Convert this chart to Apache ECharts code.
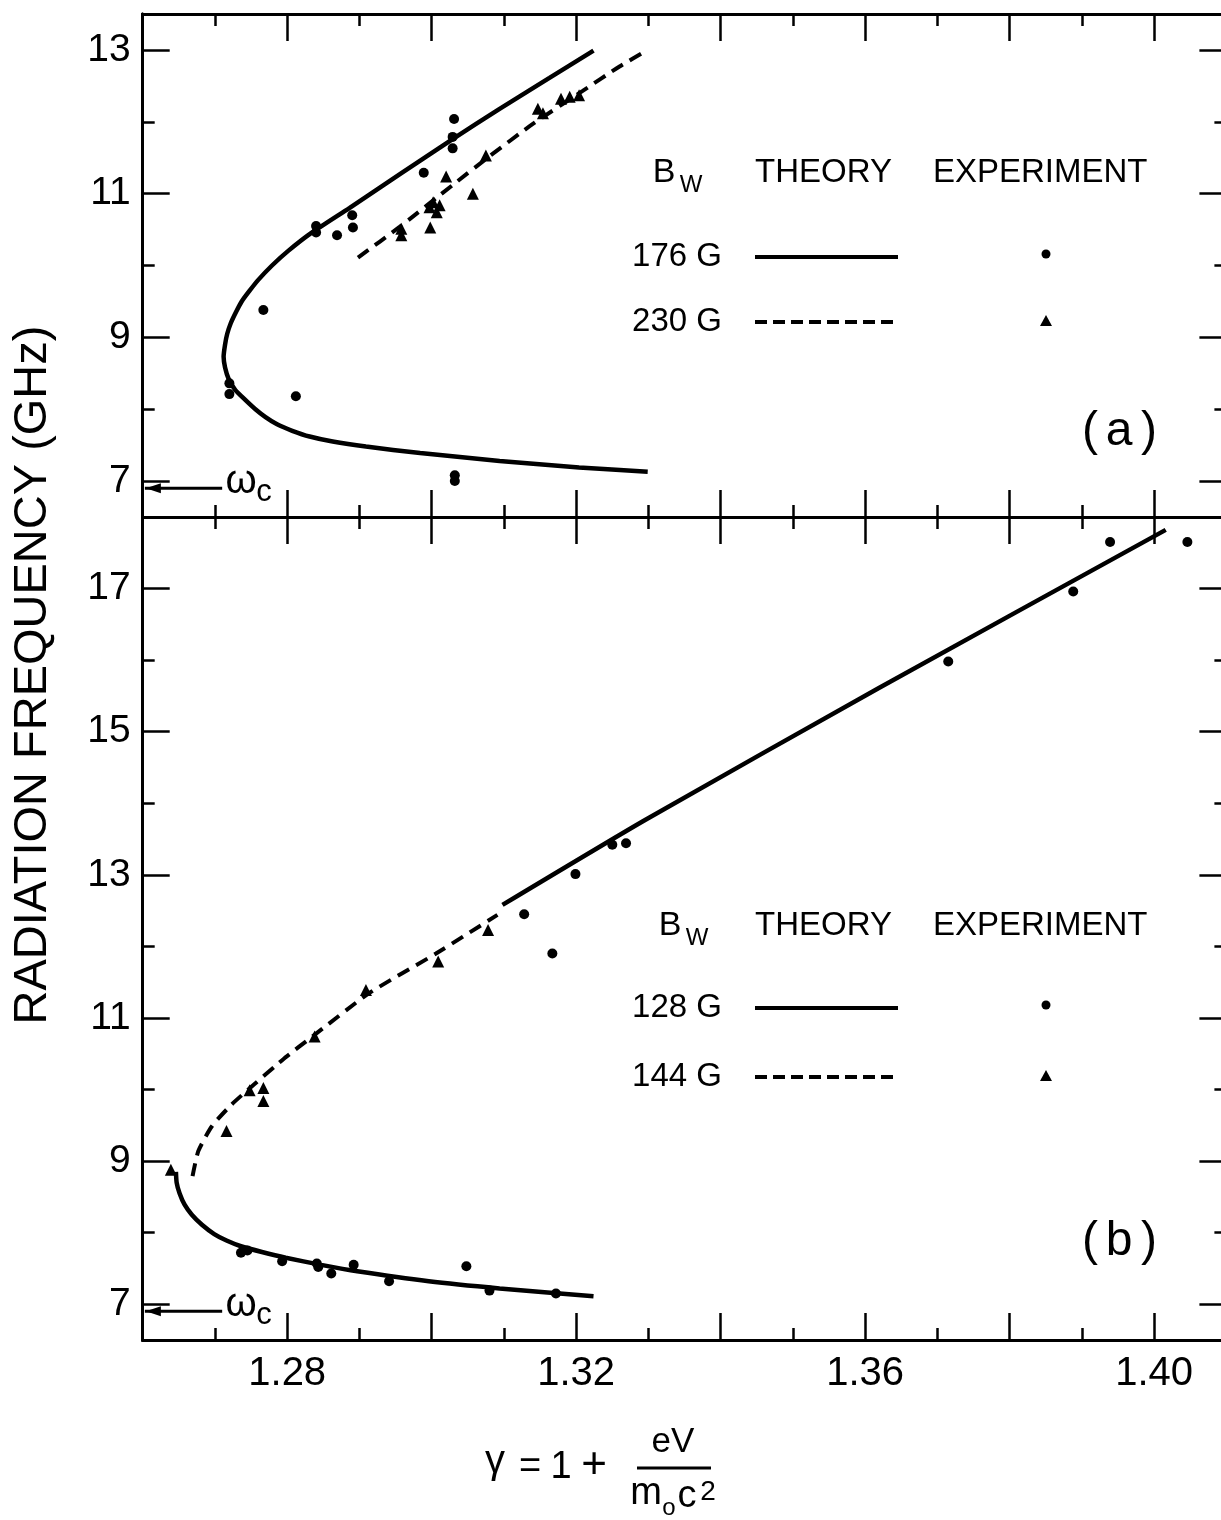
<!DOCTYPE html>
<html>
<head>
<meta charset="utf-8">
<script src="https://cdn.jsdelivr.net/npm/echarts@6/dist/echarts.min.js"></script>
<style>
html,body{margin:0;padding:0;background:#fff;}
#chart{width:1221px;height:1520px;}
</style>
</head>
<body>
<div id="chart"></div>
<script>
// ---------- data ----------
const xMin = 1.26, xMax = 1.41;
const xMajorTicks = [1.28, 1.30, 1.32, 1.34, 1.36, 1.38, 1.40];
const xMinorTicks = [1.27, 1.29, 1.31, 1.33, 1.35, 1.37, 1.39];
const xTickLabels = [1.28, 1.32, 1.36, 1.40];

const yRangeA = [6.5, 13.5];
const yMajorA = [7, 9, 11, 13];
const yMinorA = [8, 10, 12];
const yRangeB = [6.5, 18];
const yMajorB = [7, 9, 11, 13, 15, 17];
const yMinorB = [8, 10, 12, 14, 16];

const omegaC = 6.9;
const omegaArrowX = [1.2710, 1.2603];

// panel (a) theory 176 G (solid): lower branch end -> vertex -> upper end
const theoryA176 = [
  [1.3299, 7.13], [1.3204, 7.19], [1.3094, 7.28], [1.2984, 7.39], [1.2909, 7.48],
  [1.2863, 7.55], [1.2831, 7.62], [1.2807, 7.70], [1.2786, 7.79], [1.2770, 7.89],
  [1.2756, 8.00], [1.2742, 8.13], [1.2728, 8.27], [1.2719, 8.42], [1.2714, 8.58],
  [1.2712, 8.73], [1.2714, 8.90], [1.2717, 9.05], [1.2722, 9.20], [1.2729, 9.35],
  [1.2737, 9.50], [1.2748, 9.65], [1.2760, 9.80], [1.2779, 10.00], [1.2801, 10.20],
  [1.2833, 10.45], [1.2886, 10.80], [1.2956, 11.27], [1.3029, 11.76], [1.3094, 12.18],
  [1.3163, 12.61], [1.3224, 12.99]
];
// panel (a) theory 230 G (dashed)
const theoryA230 = [
  [1.2898, 10.11], [1.2956, 10.54], [1.3029, 11.12], [1.3080, 11.52], [1.3140, 11.97],
  [1.3209, 12.43], [1.3260, 12.77], [1.3299, 13.00]
];
// panel (a) experiment 176 G (dots)
const expA176 = [
  [1.2767, 9.38], [1.2720, 8.36], [1.2720, 8.21], [1.2812, 8.18], [1.2840, 10.55],
  [1.2840, 10.46], [1.2869, 10.42], [1.2890, 10.70], [1.2891, 10.53], [1.2989, 11.29],
  [1.3031, 12.04], [1.3029, 11.79], [1.3029, 11.63], [1.3032, 7.08], [1.3032, 7.00]
];
// panel (a) experiment 230 G (triangles)
const expA230 = [
  [1.2958, 10.51], [1.2958, 10.42], [1.2998, 10.53], [1.3002, 10.88], [1.3011, 10.84],
  [1.3007, 10.74], [1.2997, 10.81], [1.3020, 11.24], [1.3057, 11.00], [1.3075, 11.53],
  [1.3147, 12.18], [1.3154, 12.12], [1.3179, 12.32], [1.3191, 12.35], [1.3204, 12.37]
];

// panel (b) theory 128 G (solid): lower branch and upper straight part
const theoryB128Low = [
  [1.2646, 8.85], [1.2647, 8.70], [1.2651, 8.55], [1.2658, 8.39], [1.2668, 8.25],
  [1.2682, 8.11], [1.2699, 7.98], [1.2716, 7.89], [1.2736, 7.81], [1.2765, 7.73],
  [1.2798, 7.65], [1.2847, 7.55], [1.2897, 7.46], [1.2996, 7.32], [1.3094, 7.22],
  [1.3224, 7.11]
];
const theoryB128High = [
  [1.3098, 12.58], [1.3296, 13.77], [1.3619, 15.61], [1.4016, 17.82]
];
// panel (b) theory 144 G (dashed)
const theoryB144 = [
  [1.2669, 8.79], [1.2677, 9.14], [1.2696, 9.49], [1.2723, 9.79], [1.2754, 10.07],
  [1.2785, 10.34], [1.2799, 10.46], [1.2836, 10.75], [1.2914, 11.35], [1.3006, 11.90],
  [1.3091, 12.44]
];
// panel (b) experiment 128 G (dots)
const expB128 = [
  [1.2736, 7.72], [1.2745, 7.75], [1.2793, 7.60], [1.2841, 7.57], [1.2843, 7.52],
  [1.2861, 7.43], [1.2892, 7.55], [1.2941, 7.32], [1.3048, 7.53], [1.3080, 7.19],
  [1.3172, 7.15], [1.3128, 12.45], [1.3167, 11.90], [1.3199, 13.01], [1.3250, 13.42],
  [1.3269, 13.44], [1.3715, 15.98], [1.3888, 16.96], [1.3939, 17.65], [1.4046, 17.65]
];
// panel (b) experiment 144 G (triangles)
const expB144 = [
  [1.2639, 8.88], [1.2716, 9.42], [1.2748, 9.99], [1.2767, 10.02], [1.2767, 9.84],
  [1.2838, 10.74], [1.2909, 11.39], [1.3009, 11.79], [1.3078, 12.23]
];

// ---------- chart ----------
const FONT = "'Liberation Sans', 'DejaVu Sans', Arial, sans-serif";
const BLACK = '#000';

function xAxisDef(grid, position, ticks, len, labels) {
  return {
    type: 'value', gridIndex: grid, position: position, min: xMin, max: xMax,
    axisLine: { show: true, onZero: false, lineStyle: { color: BLACK, width: 3 } },
    axisTick: { show: true, inside: true, length: len, customValues: ticks,
                lineStyle: { color: BLACK, width: 2.5 } },
    axisLabel: labels ? {
      show: true, customValues: labels, margin: 14,
      formatter: v => Number(v).toFixed(2),
      color: BLACK, fontSize: 40, fontFamily: FONT
    } : { show: false },
    splitLine: { show: false }
  };
}
function yAxisDef(grid, position, range, ticks, len, labels) {
  return {
    type: 'value', gridIndex: grid, position: position, min: range[0], max: range[1],
    axisLine: { show: true, onZero: false, lineStyle: { color: BLACK, width: 3 } },
    axisTick: { show: true, inside: true, length: len, customValues: ticks,
                lineStyle: { color: BLACK, width: 2.5 } },
    axisLabel: labels ? {
      show: true, customValues: labels, margin: 12,
      color: BLACK, fontSize: 39, fontFamily: FONT
    } : { show: false },
    splitLine: { show: false }
  };
}

const xAxes = [
  xAxisDef(0, 'bottom', xMajorTicks, 27, null),
  xAxisDef(0, 'bottom', xMinorTicks, 12, null),
  xAxisDef(0, 'top', xMajorTicks, 27, null),
  xAxisDef(0, 'top', xMinorTicks, 12, null),
  xAxisDef(1, 'bottom', xMajorTicks, 27, xTickLabels),
  xAxisDef(1, 'bottom', xMinorTicks, 12, null),
  xAxisDef(1, 'top', xMajorTicks, 27, null),
  xAxisDef(1, 'top', xMinorTicks, 12, null)
];
const yAxes = [
  yAxisDef(0, 'left', yRangeA, yMajorA, 27, yMajorA),
  yAxisDef(0, 'left', yRangeA, yMinorA, 12, null),
  yAxisDef(0, 'right', yRangeA, yMajorA, 27, null),
  yAxisDef(0, 'right', yRangeA, yMinorA, 12, null),
  yAxisDef(1, 'left', yRangeB, yMajorB, 27, yMajorB),
  yAxisDef(1, 'left', yRangeB, yMinorB, 12, null),
  yAxisDef(1, 'right', yRangeB, yMajorB, 27, null),
  yAxisDef(1, 'right', yRangeB, yMinorB, 12, null)
];

const solid = { color: BLACK, width: 4.5, type: 'solid' };
const dashed = { color: BLACK, width: 4, type: [13, 8] };
const dotStyle = { color: BLACK, opacity: 1 };

const omegaShaft = omegaArrowX.map(x => [x, omegaC]);

const series = [
  { type: 'line', xAxisIndex: 0, yAxisIndex: 0, data: theoryA176, symbol: 'none', smooth: 0.2, lineStyle: solid, silent: true },
  { type: 'line', xAxisIndex: 0, yAxisIndex: 0, data: theoryA230, symbol: 'none', smooth: 0.2, lineStyle: dashed, silent: true },
  { type: 'scatter', xAxisIndex: 0, yAxisIndex: 0, data: expA176, symbol: 'circle', symbolSize: 10, itemStyle: dotStyle },
  { type: 'scatter', xAxisIndex: 0, yAxisIndex: 0, data: expA230, symbol: 'triangle', symbolSize: 12, itemStyle: dotStyle },
  { type: 'line', xAxisIndex: 0, yAxisIndex: 0, data: omegaShaft, symbol: 'none', lineStyle: { color: BLACK, width: 3 }, silent: true },
  { type: 'line', xAxisIndex: 4, yAxisIndex: 4, data: theoryB128Low, symbol: 'none', smooth: 0.2, lineStyle: solid, silent: true },
  { type: 'line', xAxisIndex: 4, yAxisIndex: 4, data: theoryB128High, symbol: 'none', smooth: 0.2, lineStyle: solid, silent: true },
  { type: 'line', xAxisIndex: 4, yAxisIndex: 4, data: theoryB144, symbol: 'none', smooth: 0.2, lineStyle: dashed, silent: true },
  { type: 'scatter', xAxisIndex: 4, yAxisIndex: 4, data: expB128, symbol: 'circle', symbolSize: 10, itemStyle: dotStyle },
  { type: 'scatter', xAxisIndex: 4, yAxisIndex: 4, data: expB144, symbol: 'triangle', symbolSize: 12, itemStyle: dotStyle },
  { type: 'line', xAxisIndex: 4, yAxisIndex: 4, data: omegaShaft, symbol: 'none', lineStyle: { color: BLACK, width: 3 }, silent: true }
];

function txt(text, x, y, size, align, extra) {
  return Object.assign({
    type: 'text', x: x, y: y, silent: true,
    style: { text: text, fill: BLACK, fontSize: size, fontFamily: FONT,
             align: align || 'center', verticalAlign: 'middle' }
  }, extra || {});
}
function legendBlock(y0, y1, y2, lab1, lab2, bx) {
  return [
    txt('B', bx, y0, 34, 'center'),
    txt('W', bx + 27, y0 + 12, 24, 'center'),
    txt('THEORY', 755, y0, 33, 'left'),
    txt('EXPERIMENT', 933, y0, 33, 'left'),
    txt(lab1, 722, y1, 33, 'right'),
    txt(lab2, 722, y2, 33, 'right'),
    { type: 'line', silent: true, shape: { x1: 755, y1: y1, x2: 898, y2: y1 },
      style: { stroke: BLACK, lineWidth: 4 } },
    { type: 'line', silent: true, shape: { x1: 755, y1: y2, x2: 898, y2: y2 },
      style: { stroke: BLACK, lineWidth: 4, lineDash: [12, 6] } },
    { type: 'circle', silent: true, shape: { cx: 1046, cy: y1 - 3, r: 4.5 }, style: { fill: BLACK } },
    { type: 'polygon', silent: true,
      shape: { points: [[1046, y2 - 7], [1040, y2 + 4], [1052, y2 + 4]] }, style: { fill: BLACK } }
  ];
}
function panelTag(letter, y) {
  return [
    txt('(', 1090, y, 48, 'center'),
    txt(letter, 1119, y, 48, 'center'),
    txt(')', 1149, y, 48, 'center')
  ];
}
function omegaLabel(yArrow) {
  return [
    txt('ω', 241, yArrow - 6, 40, 'center'),
    txt('c', 264, yArrow + 4, 31, 'center')
  ];
}

const staticGraphics = [].concat(
  [txt('RADIATION FREQUENCY (GHz)', 33, 675, 47, 'center', { rotation: Math.PI / 2 })],
  legendBlock(173, 257, 322, '176 G', '230 G', 664),
  legendBlock(926, 1008, 1077, '128 G', '144 G', 670),
  panelTag('a', 432),
  panelTag('b', 1242),
  [
    txt('γ', 495, 1462, 40, 'center'),
    txt('=', 530, 1468, 38, 'center'),
    txt('1', 561, 1468, 38, 'center'),
    txt('+', 594, 1466, 44, 'center'),
    txt('eV', 673, 1442, 35, 'center'),
    { type: 'line', silent: true, shape: { x1: 637, y1: 1468, x2: 711, y2: 1468 },
      style: { stroke: BLACK, lineWidth: 3 } },
    txt('m', 646, 1494, 38, 'center'),
    txt('o', 669, 1508, 24, 'center'),
    txt('c', 687, 1497, 38, 'center'),
    txt('2', 708, 1492, 28, 'center')
  ]
);

const chart = echarts.init(document.getElementById('chart'), null, { renderer: 'canvas' });
chart.setOption({
  animation: false,
  backgroundColor: '#fff',
  grid: [
    { left: 142.7, top: 14, width: 1083.7, height: 503, containLabel: false, outerBoundsMode: 'none' },
    { left: 142.7, top: 517, width: 1083.7, height: 823, containLabel: false, outerBoundsMode: 'none' }
  ],
  xAxis: xAxes,
  yAxis: yAxes,
  series: series,
  graphic: staticGraphics
});

// arrowheads and ωc labels placed through the axes' own scales
const extra = [];
[[0, 0], [4, 4]].forEach(([xi, yi]) => {
  const tip = chart.convertToPixel({ xAxisIndex: xi, yAxisIndex: yi }, [omegaArrowX[1], omegaC]);
  const tx = tip[0] + 1, ty = tip[1];
  extra.push({ type: 'polygon', silent: true,
    shape: { points: [[tx, ty], [tx + 15, ty - 5], [tx + 15, ty + 5]] },
    style: { fill: BLACK } });
  omegaLabel(ty).forEach(g => extra.push(g));
});
chart.setOption({ graphic: staticGraphics.concat(extra) });
</script>
</body>
</html>
